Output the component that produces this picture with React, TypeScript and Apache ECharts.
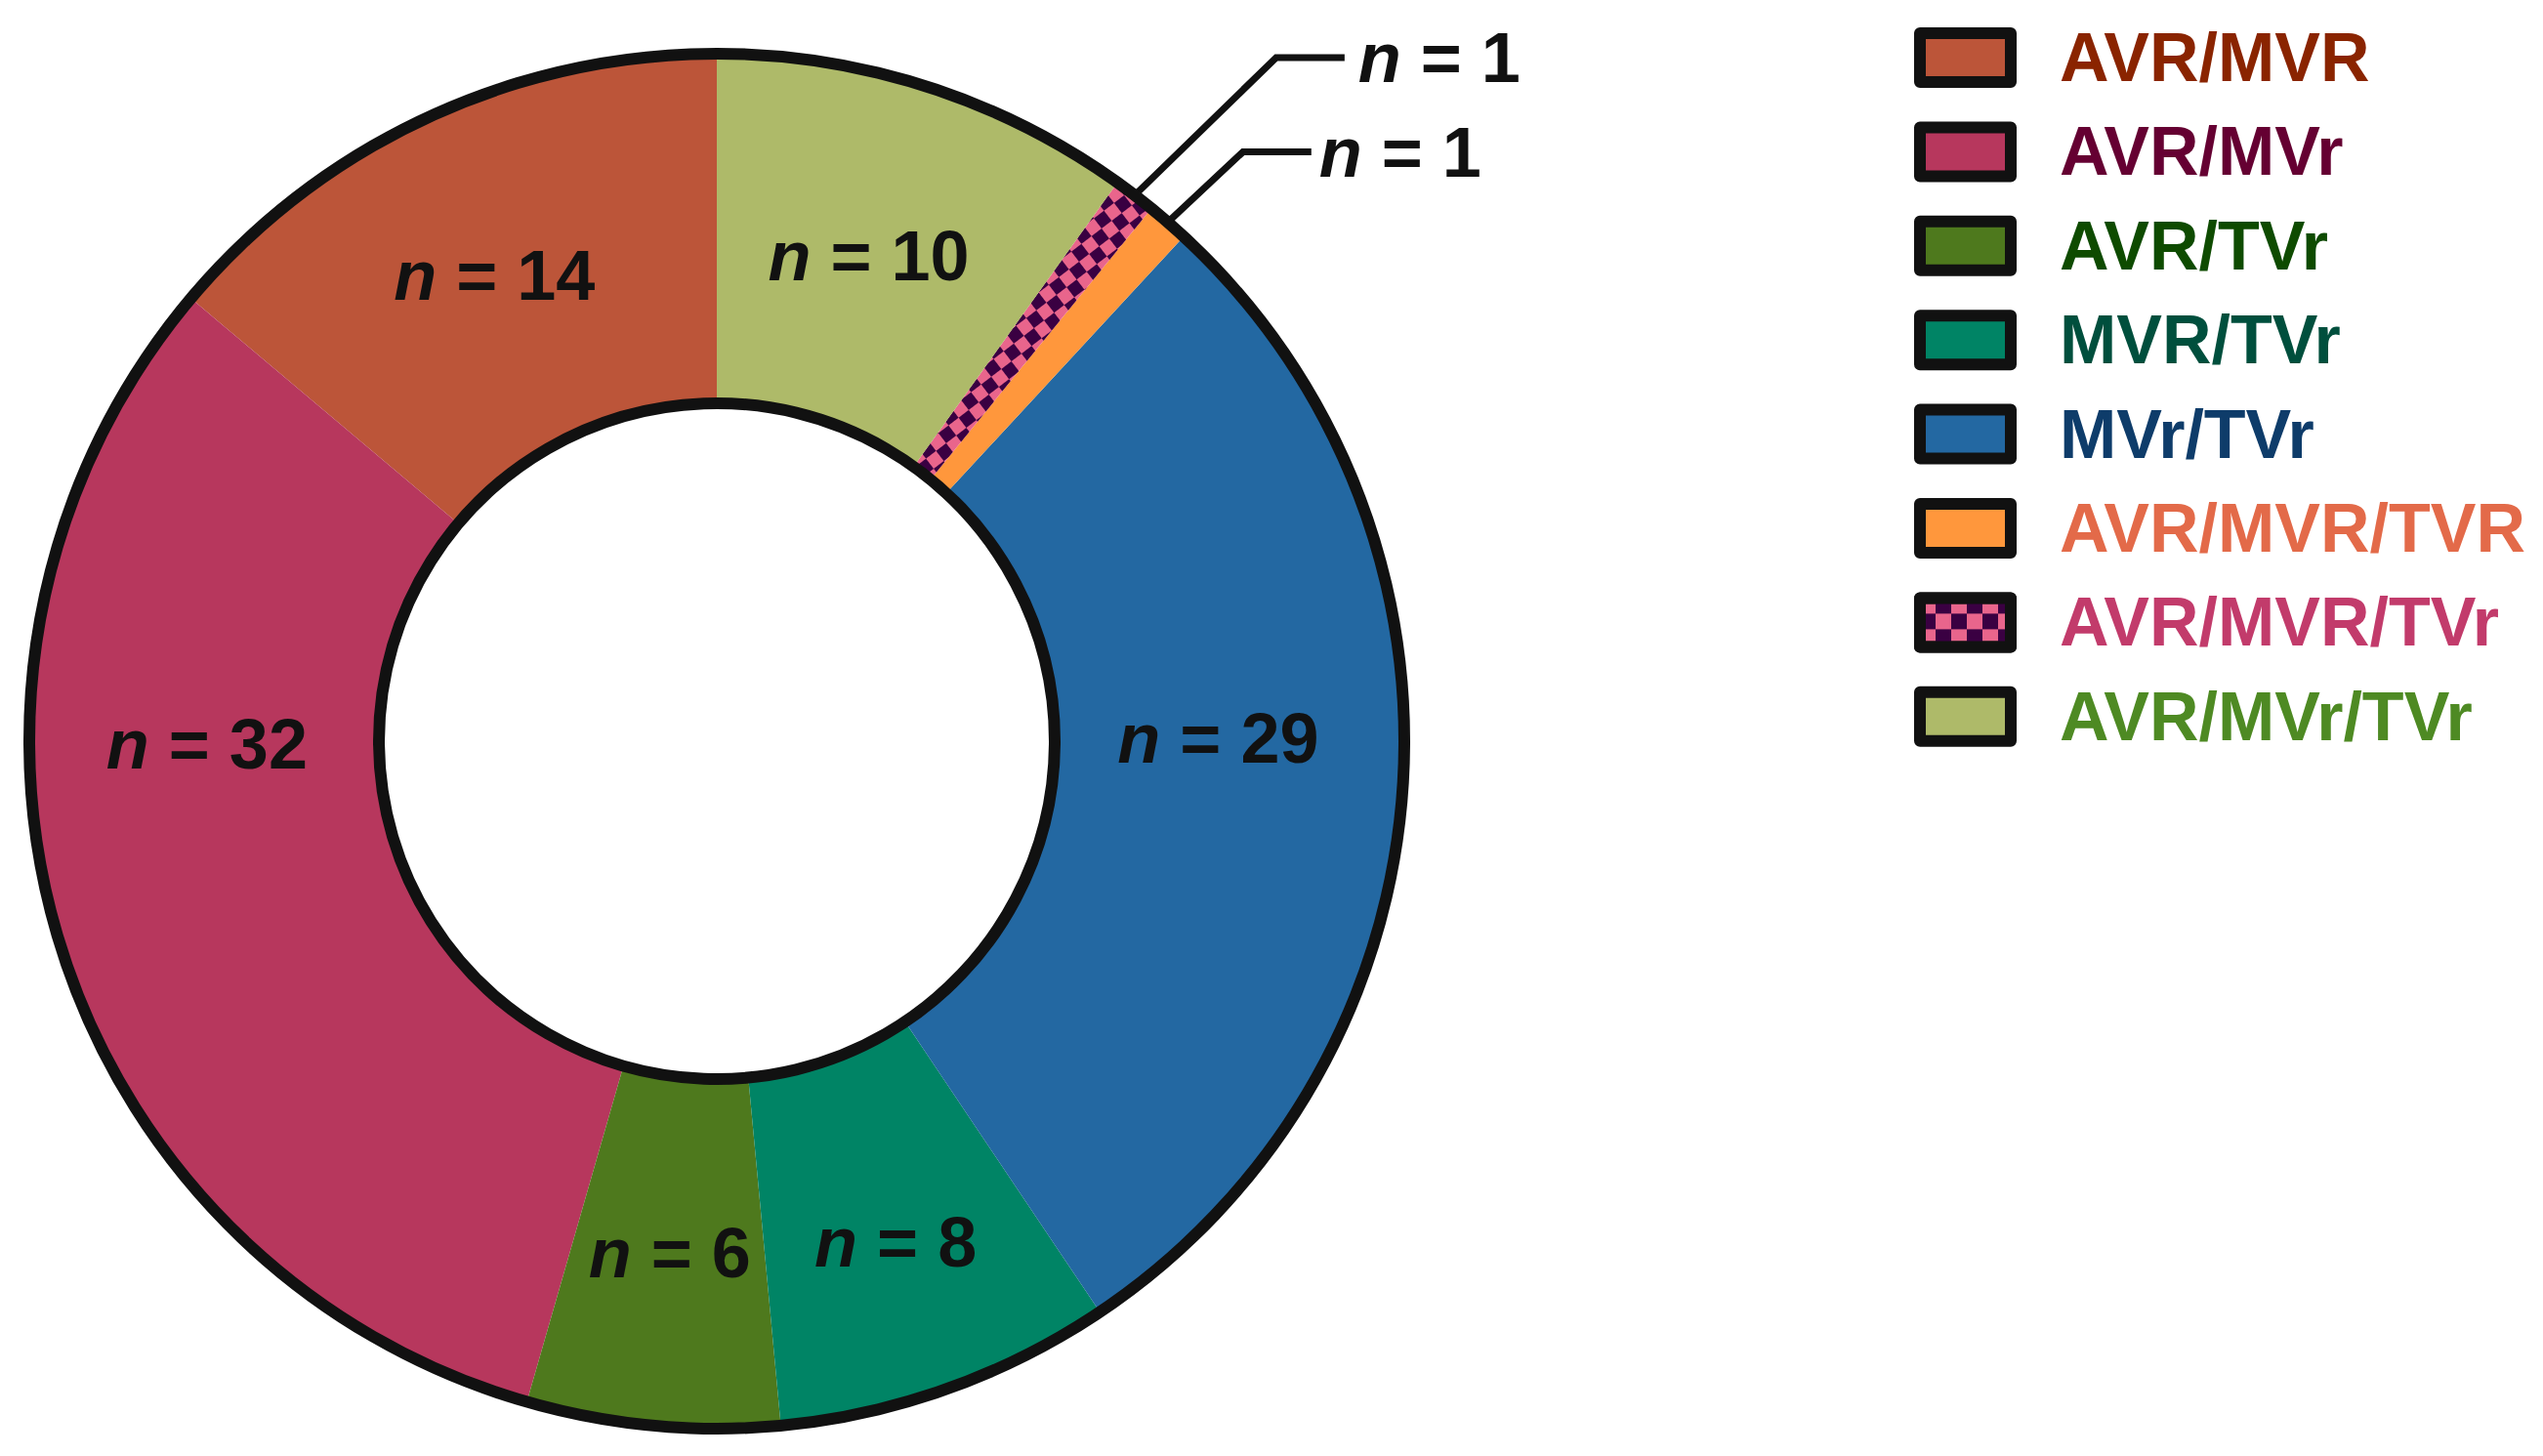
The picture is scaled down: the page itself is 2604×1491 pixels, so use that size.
import React, { useEffect, useRef } from 'react';
import * as echarts from 'echarts';

// ---- data ----
const categories = ['AVR/MVR', 'AVR/MVr', 'AVR/TVr', 'MVR/TVr', 'MVr/TVr', 'AVR/MVR/TVR', 'AVR/MVR/TVr', 'AVR/MVr/TVr'];
const counts = [14, 32, 6, 8, 29, 1, 1, 10];
const sliceColors = ['#BC5539', '#B7375D', '#4E791D', '#008465', '#2368A2', '#FF973C', '#E9658C', '#AEBA69'];
const legendTextColors = ['#8A2400', '#650032', '#0E4B00', '#004F3D', '#0E3C6A', '#E36A49', '#C23B6B', '#4E8A23'];
const checkeredIndex = 6;
const checkerDark = '#3A0042';

// ---- layout / style ----
const W = 2604;
const H = 1491;
const CX = 734;
const CY = 759;
const R_IN = 346;
const R_OUT = 704;
const BORDER = 12;
const FONT = '"Liberation Sans", Arial, Helvetica, sans-serif';
const INK = '#111111';

const labelNudges: Record<number, [number, number]> = {
  0: [-5, 2],
  1: [-17, -151],
  2: [1, -2],
  3: [6, 16],
  4: [-13, -44],
  7: [-6, 6],
};
const leaders: Record<number, { run: number; rise: number; len2: number; gap: number }> = {
  5: { run: 77, rise: 72, len2: 70, gap: 8 },
  6: { run: 145, rise: 141, len2: 70, gap: 14 },
};

function checkerDecal(size: number, rotationDeg: number) {
  return {
    symbol: 'rect',
    symbolSize: 1,
    color: checkerDark,
    dashArrayX: [[size, size], [0, size, size, 0]],
    dashArrayY: [size, 0],
    rotation: (rotationDeg * Math.PI) / 180,
  };
}

export default function App() {
  const ref = useRef<HTMLDivElement>(null);

  useEffect(() => {
    if (!ref.current) return;
    const chart = echarts.init(ref.current, null, { renderer: 'svg' });

    const pieData = categories.map((name, i) => {
      const item: any = {
        name,
        value: counts[i],
        itemStyle: { color: sliceColors[i] },
      };
      if (i === checkeredIndex) item.itemStyle.decal = checkerDecal(13, 52.6);
      if (leaders[i]) {
        item.label = { position: 'outside' };
        item.labelLine = { show: true, length: 60, length2: 60, lineStyle: { color: INK, width: 7 } };
      }
      return item;
    });

    const legendData = categories.map((name, i) => {
      const d: any = { name, textStyle: { color: legendTextColors[i] } };
      if (i === checkeredIndex) d.itemStyle = { decal: checkerDecal(16, 0) };
      return d;
    });

    const option: any = {
      animation: false,
      backgroundColor: '#ffffff',
      legend: {
        orient: 'vertical',
        left: 1960,
        top: 24,
        padding: 0,
        icon: 'rect',
        itemWidth: 93,
        itemHeight: 50,
        itemGap: 26.4,
        selectedMode: false,
        itemStyle: { borderColor: INK, borderWidth: BORDER },
        textStyle: {
          fontFamily: FONT,
          fontWeight: 'bold',
          fontSize: 70,
          padding: [0, 0, 0, 45],
        },
        data: legendData,
      },
      graphic: [
        {
          type: 'circle',
          z: 50,
          silent: true,
          shape: { cx: CX, cy: CY, r: R_OUT },
          style: { fill: 'none', stroke: INK, lineWidth: BORDER },
        },
        {
          type: 'circle',
          z: 50,
          silent: true,
          shape: { cx: CX, cy: CY, r: R_IN },
          style: { fill: 'none', stroke: INK, lineWidth: BORDER },
        },
      ],
      series: [
        {
          type: 'pie',
          center: [CX, CY],
          radius: [R_IN, R_OUT],
          startAngle: 90,
          clockwise: false,
          avoidLabelOverlap: false,
          emphasis: { disabled: true },
          itemStyle: { borderWidth: 0 },
          label: {
            show: true,
            position: 'inside',
            formatter: (p: any) => `{i|n}{b| = ${p.value}}`,
            rich: {
              i: { fontFamily: FONT, fontStyle: 'italic', fontWeight: 'bold', fontSize: 72, color: INK },
              b: { fontFamily: FONT, fontWeight: 'bold', fontSize: 72, color: INK },
            },
          },
          labelLine: { show: false },
          labelLayout: (params: any) => {
            const i = params.dataIndex;
            const lead = leaders[i];
            if (lead && params.labelLinePoints) {
              const p0 = params.labelLinePoints[0];
              const p1 = [p0[0] + lead.run, p0[1] - lead.rise];
              const p2 = [p1[0] + lead.len2, p1[1]];
              return {
                x: p2[0] + lead.gap,
                y: p2[1],
                align: 'left',
                verticalAlign: 'middle',
                labelLinePoints: [p0, p1, p2],
              };
            }
            const n = labelNudges[i] || [0, 0];
            return { dx: n[0], dy: n[1] };
          },
          data: pieData,
        },
      ],
    };

    chart.setOption(option);
    return () => chart.dispose();
  }, []);

  return (
    <div
      ref={ref}
      style={{ position: 'fixed', left: 0, top: 0, width: W, height: H, background: '#fff' }}
    />
  );
}
